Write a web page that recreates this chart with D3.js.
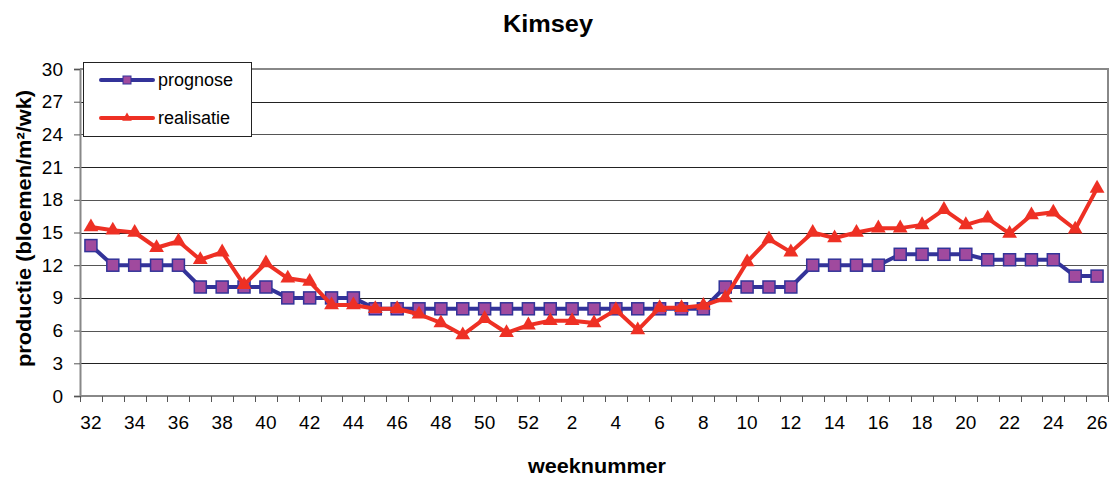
<!DOCTYPE html>
<html><head><meta charset="utf-8">
<script src="https://cdn.jsdelivr.net/npm/d3@7"></script>
<style>body{margin:0;background:#fff}svg{display:block}</style>
</head><body>
<script>
const weeks = [32,33,34,35,36,37,38,39,40,41,42,43,44,45,46,47,48,49,50,51,52,1,2,3,4,5,6,7,8,9,10,11,12,13,14,15,16,17,18,19,20,21,22,23,24,25,26];
const prognose = [13.8,12,12,12,12,10,10,10,10,9,9,9,9,8,8,8,8,8,8,8,8,8,8,8,8,8,8,8,8,10,10,10,10,12,12,12,12,13,13,13,13,12.5,12.5,12.5,12.5,11,11];
const realisatie = [15.5,15.2,15.0,13.6,14.2,12.5,13.2,10.2,12.2,10.8,10.5,8.35,8.35,8.0,8.0,7.5,6.7,5.6,7.1,5.8,6.5,6.9,6.9,6.7,7.9,6.05,8.1,8.1,8.3,9.0,12.3,14.4,13.2,15.0,14.5,15.0,15.4,15.4,15.7,17.1,15.7,16.3,14.9,16.6,16.85,15.3,19.05];
const yTicks = [0,3,6,9,12,15,18,21,24,27,30];
const seriesNames = ["prognose","realisatie"];

const W=1117,H=480;
const m={l:80,r:9,t:69,b:84};
const svg=d3.select("body").append("svg").attr("width",W).attr("height",H);
const font="'Liberation Sans', Arial, sans-serif";
const x=d3.scaleBand().domain(d3.range(weeks.length)).range([m.l,W-m.r]);
const y=d3.scaleLinear().domain([0,30]).range([H-m.b,m.t]);
const cx=i=>x(i)+x.bandwidth()/2;

// grid
svg.append("g").selectAll("line").data(yTicks.filter(d=>d>0)).join("line")
 .attr("x1",m.l).attr("x2",W-m.r).attr("y1",d=>Math.round(y(d))+0.5).attr("y2",d=>Math.round(y(d))+0.5)
 .attr("stroke",(d,i)=>i%2?"#555":"#222").attr("stroke-width",1.2);
// frame right/top
svg.append("path").attr("d",`M${m.l},${y(30)}H${W-m.r}V${y(0)}`).attr("fill","none").attr("stroke","#888").attr("stroke-width",2);

// y axis
const ya=svg.append("g").attr("transform",`translate(${m.l},0)`)
 .call(d3.axisLeft(y).tickValues(yTicks).tickSize(6).tickPadding(11));
ya.select(".domain").attr("stroke","#888").attr("stroke-width",2);
ya.selectAll(".tick line").attr("stroke","#555");
ya.selectAll("text").attr("font-family",font).attr("font-size",19).attr("fill","#000");

// x axis
const xa=svg.append("g").attr("transform",`translate(0,${y(0)})`);
xa.append("line").attr("x1",m.l).attr("x2",W-m.r).attr("y1",0).attr("y2",0).attr("stroke","#888").attr("stroke-width",2);
xa.selectAll("line.t").data(d3.range(weeks.length+1)).join("line").attr("class","t")
 .attr("x1",i=>Math.round(m.l+i*x.bandwidth())+0.5).attr("x2",i=>Math.round(m.l+i*x.bandwidth())+0.5)
 .attr("y1",0).attr("y2",6).attr("stroke","#555");
xa.selectAll("text").data(d3.range(0,weeks.length,2)).join("text")
 .attr("x",i=>cx(i)).attr("y",33).attr("text-anchor","middle")
 .attr("font-family",font).attr("font-size",19).text(i=>weeks[i]);

// lines
const line=d3.line().x((d,i)=>cx(i)).y(d=>y(d));
svg.append("path").datum(prognose).attr("d",line).attr("fill","none").attr("stroke","#333399").attr("stroke-width",4).attr("stroke-linejoin","round");
svg.append("g").selectAll("rect").data(prognose).join("rect")
 .attr("x",(d,i)=>cx(i)-6).attr("y",d=>y(d)-6).attr("width",12).attr("height",12)
 .attr("fill","#A04A9E").attr("stroke","#333399").attr("stroke-width",1.5);
svg.append("path").datum(realisatie).attr("d",line).attr("fill","none").attr("stroke","#EE3024").attr("stroke-width",4).attr("stroke-linejoin","round");
const tri=d3.symbol().type(d3.symbolTriangle).size(95);
svg.append("g").selectAll("path").data(realisatie).join("path")
 .attr("transform",(d,i)=>`translate(${cx(i)},${y(d)})`).attr("d",tri).attr("fill","#EE3024");

// legend
const lg=svg.append("g");
lg.append("rect").attr("x",83.5).attr("y",62.5).attr("width",168).attr("height",74).attr("fill","#fff").attr("stroke","#222").attr("stroke-width",1);
[[80,"#333399"],[118,"#EE3024"]].forEach(([ly,c],k)=>{
 lg.append("line").attr("x1",101).attr("x2",153).attr("y1",ly).attr("y2",ly).attr("stroke",c).attr("stroke-width",4).attr("stroke-linecap","round");
 if(k===0) lg.append("rect").attr("x",123).attr("y",ly-4).attr("width",8).attr("height",8).attr("fill","#A04A9E").attr("stroke","#333399");
 else lg.append("path").attr("transform",`translate(127,${ly})`).attr("d",d3.symbol().type(d3.symbolTriangle).size(40)).attr("fill",c);
 lg.append("text").attr("x",158).attr("y",ly+6).attr("font-family",font).attr("font-size",18).text(seriesNames[k]);
});

// titles
svg.append("text").attr("x",548).attr("y",32).attr("text-anchor","middle").attr("font-family",font).attr("font-weight","bold").attr("font-size",23)
 .attr("textLength",90).attr("lengthAdjust","spacingAndGlyphs").text("Kimsey");
svg.append("text").attr("x",597).attr("y",473).attr("text-anchor","middle").attr("font-family",font).attr("font-weight","bold").attr("font-size",21)
 .attr("textLength",138).attr("lengthAdjust","spacingAndGlyphs").text("weeknummer");
svg.append("text").attr("transform",`translate(31,228.5) rotate(-90)`).attr("text-anchor","middle").attr("font-family",font).attr("font-weight","bold").attr("font-size",20)
 .attr("textLength",277).attr("lengthAdjust","spacingAndGlyphs").text("productie (bloemen/m²/wk)");
</script>
</body></html>
